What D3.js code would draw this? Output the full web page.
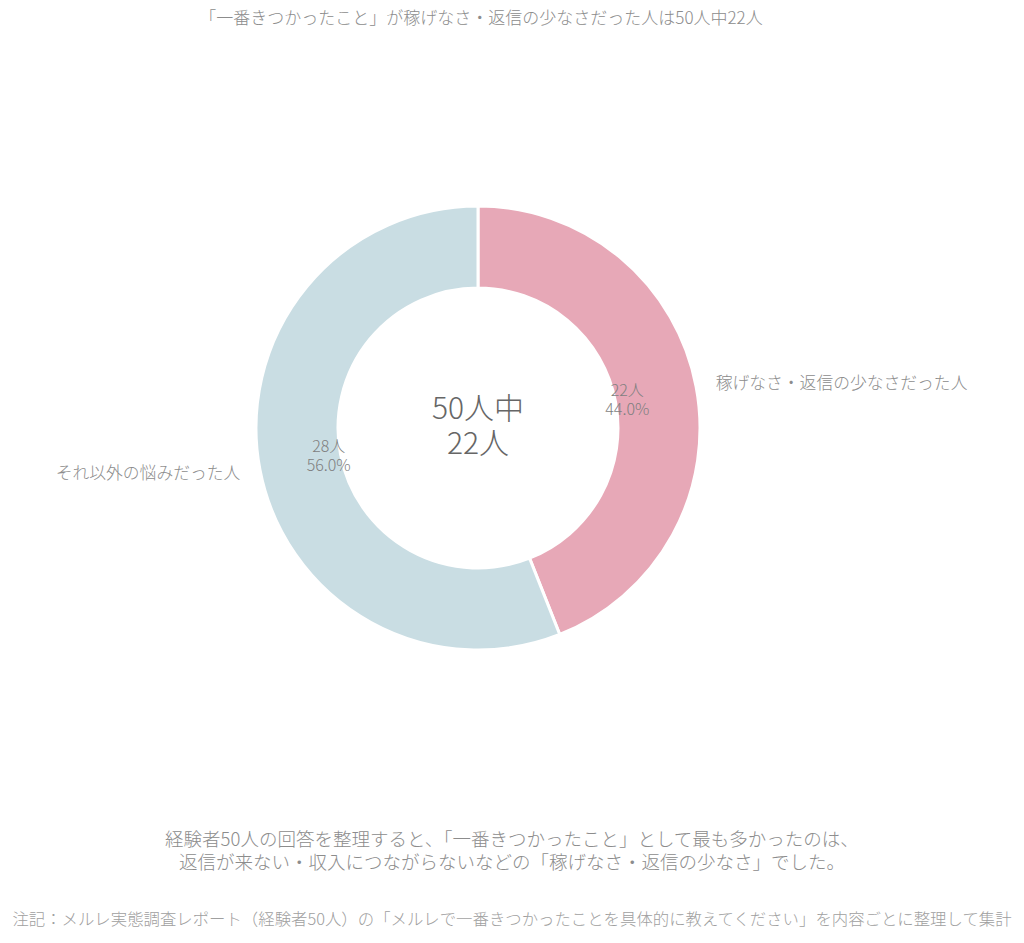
<!DOCTYPE html>
<html><head><meta charset="utf-8">
<script src="https://cdn.jsdelivr.net/npm/d3@7"></script>
<style>
body{margin:0;background:#fff;}
text{font-family:"Noto Sans CJK JP Light","Noto Sans CJK JP","Noto Sans",sans-serif;font-weight:200;}
</style></head>
<body><svg id="c" width="1024" height="943"></svg>
<script>
const title = "「一番きつかったこと」が稼げなさ・返信の少なさだった人は50人中22人";
const categories = ["稼げなさ・返信の少なさだった人", "それ以外の悩みだった人"];
const values = [22, 28];
const colors = ["#e7a8b7", "#c9dde3"];
const centerLines = ["50人中", "22人"];
const noteLines = ["経験者50人の回答を整理すると、「一番きつかったこと」として最も多かったのは、",
  "返信が来ない・収入につながらないなどの「稼げなさ・返信の少なさ」でした。"];
const footer = "注記：メルレ実態調査レポート（経験者50人）の「メルレで一番きつかったことを具体的に教えてください」を内容ごとに整理して集計";

const svg = d3.select("#c");
const cx = 478, cy = 428, rOuter = 222, rInner = 140;
const total = d3.sum(values);
const data = categories.map((c,i)=>({cat:c, v:values[i], color:colors[i]}));
const pie = d3.pie().value(d=>d.v).sort(null);
const arcs = pie(data);
const arc = d3.arc().innerRadius(rInner).outerRadius(rOuter);
const labelArc = d3.arc().innerRadius(152).outerRadius(152);
const outerArc = d3.arc().innerRadius(242).outerRadius(242);

svg.append("text").attr("x",481).attr("y",24).attr("text-anchor","middle")
  .attr("font-size",17).attr("fill","#8c8c8c").text(title);

const g = svg.append("g").attr("transform",`translate(${cx},${cy})`);
g.selectAll("path").data(arcs).join("path")
  .attr("d",arc).attr("fill",d=>d.data.color)
  .attr("stroke","#fff").attr("stroke-width",3);

g.selectAll("text.in").data(arcs).join("text").attr("class","in")
  .attr("text-anchor","middle").attr("font-size",16).attr("fill","#7f7f7f")
  .each(function(d){
    const [x,y] = labelArc.centroid(d);
    const t = d3.select(this);
    t.append("tspan").attr("x",x).attr("y",y-4).text(d.data.v+"人");
    t.append("tspan").attr("x",x).attr("y",y+15).text((d.data.v/total*100).toFixed(1)+"%");
  });

g.selectAll("text.out").data(arcs).join("text").attr("class","out")
  .attr("font-size",16.8).attr("fill","#8c8c8c")
  .attr("text-anchor",d=>(d.startAngle+d.endAngle)/2 < Math.PI ? "start" : "end")
  .attr("x",d=>outerArc.centroid(d)[0])
  .attr("y",d=>outerArc.centroid(d)[1]+6)
  .text(d=>d.data.cat);

const ct = g.append("text").attr("text-anchor","middle").attr("font-size",30).attr("fill","#666");
centerLines.forEach((l,i)=>ct.append("tspan").attr("x",0).attr("y",-9+i*35).text(l));

noteLines.forEach((l,i)=>svg.append("text").attr("x",512).attr("y",846+i*23)
  .attr("text-anchor","middle").attr("font-size",18.5).attr("fill","#8c8c8c").text(l));

svg.append("text").attr("x",512).attr("y",925).attr("text-anchor","middle")
  .attr("font-size",16.4).attr("fill","#a0a0a0").text(footer);
</script></body></html>
